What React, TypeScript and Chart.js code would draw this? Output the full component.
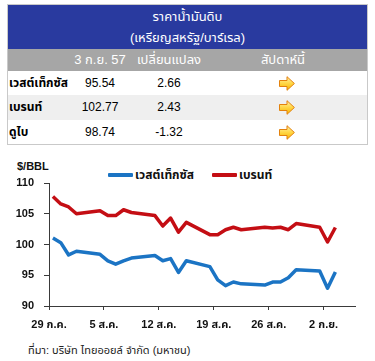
import React, { useEffect, useRef } from "react";
import { Chart, registerables } from "chart.js";

Chart.register(...registerables);

// ---------- data ----------
const tradeDates = [
  "2014-07-29", "2014-07-30", "2014-07-31", "2014-08-01",
  "2014-08-04", "2014-08-05", "2014-08-06", "2014-08-07", "2014-08-08",
  "2014-08-11", "2014-08-12", "2014-08-13", "2014-08-14", "2014-08-15",
  "2014-08-18", "2014-08-19", "2014-08-20", "2014-08-21", "2014-08-22",
  "2014-08-25", "2014-08-26", "2014-08-27", "2014-08-28", "2014-08-29",
  "2014-09-01", "2014-09-02", "2014-09-03",
];
const wtiPrices = [
  101.05, 100.3, 98.3, 98.9,
  98.4, 97.35, 96.8, 97.35, 97.8,
  98.2, 97.35, 97.7, 95.45, 97.35,
  96.4, 94.25, 93.3, 93.9, 93.6,
  93.4, 93.9, 93.9, 94.6, 95.9,
  95.7, 92.9, 95.54,
];
const brentPrices = [
  107.8, 106.6, 106.1, 105.0,
  105.5, 104.7, 104.7, 105.65, 105.2,
  104.7, 103.0, 104.3, 102.0, 103.6,
  101.6, 101.6, 102.4, 102.8, 102.4,
  102.8, 102.7, 102.8, 102.4, 103.4,
  102.8, 100.4, 102.77,
];
const seriesNames = ["เวสต์เท็กซัส", "เบรนท์"];
const axisStartDate = "2014-07-29";
const axisTickDays = [0, 7, 14, 21, 28, 35];
const axisTickLabels = ["29 ก.ค.", "5 ส.ค.", "12 ส.ค.", "19 ส.ค.", "26 ส.ค.", "2 ก.ย."];
const axisDayMax = 39;
const yMin = 90;
const yMax = 110;
const yStep = 5;

const tableTitle = ["ราคาน้ำมันดิบ", "(เหรียญสหรัฐ/บาร์เรล)"];
const tableHeaders = ["3 ก.ย. 57", "เปลี่ยนแปลง", "สัปดาห์นี้"];
const tableRowNames = ["เวสต์เท็กซัส", "เบรนท์", "ดูไบ"];
const tableLatest = ["95.54", "102.77", "98.74"];
const tableChange = ["2.66", "2.43", "-1.32"];
const unitLabel = "$/BBL";
const sourceText = "ที่มา: บริษัท ไทยออยล์ จำกัด (มหาชน)";

// ---------- styles ----------
const FONT = "Arial, 'Liberation Sans', 'Noto Sans Thai', 'Noto Sans', sans-serif";
const BLUE = "#1b74c4";
const RED = "#c40e14";
const SERIES_COLORS = [BLUE, RED];
const AXIS = "#3a3a3a";
const LEGEND_X = [108, 212];

function dayOffset(d: string): number {
  return Math.round((Date.parse(d) - Date.parse(axisStartDate)) / 86400000) + 0.5;
}

function toPoints(vals: number[]) {
  return vals.map((v, i) => ({ x: dayOffset(tradeDates[i]), y: v }));
}

function Arrow() {
  return (
    <svg width="16" height="15" viewBox="0 0 16 15" style={{ display: "block" }}>
      <defs>
        <linearGradient id="ag" x1="0" y1="0" x2="0" y2="1">
          <stop offset="0" stopColor="#fff3a8" />
          <stop offset="0.5" stopColor="#ffd645" />
          <stop offset="1" stopColor="#f5b400" />
        </linearGradient>
      </defs>
      <polygon
        points="0.5,4.5 8,4.5 8,0.7 15.4,7.5 8,14.3 8,10.5 0.5,10.5"
        fill="url(#ag)"
        stroke="#e3810d"
        strokeWidth="1"
        strokeLinejoin="miter"
      />
    </svg>
  );
}

const colCenters = [92, 161, 279];

export default function App() {
  const ref = useRef<HTMLCanvasElement | null>(null);

  useEffect(() => {
    if (!ref.current) return;
    Chart.defaults.font.family = FONT;
    const chart = new Chart(ref.current, {
      type: "line",
      data: {
        datasets: [
          {
            label: seriesNames[0],
            data: toPoints(wtiPrices),
            borderColor: BLUE,
            backgroundColor: BLUE,
            borderWidth: 3.5,
            pointRadius: 0,
            tension: 0,
            borderJoinStyle: "round",
          },
          {
            label: seriesNames[1],
            data: toPoints(brentPrices),
            borderColor: RED,
            backgroundColor: RED,
            borderWidth: 3.5,
            pointRadius: 0,
            tension: 0,
            borderJoinStyle: "round",
          },
        ],
      },
      options: {
        animation: false,
        responsive: false,
        maintainAspectRatio: false,
        events: [],
        layout: { padding: { top: 33, right: 20, left: 0, bottom: 0 } },
        plugins: {
          legend: { display: false },
          tooltip: { enabled: false },
        },
        scales: {
          x: {
            type: "linear",
            min: 0,
            max: axisDayMax,
            afterBuildTicks: (s: any) => {
              s.ticks = axisTickDays.map((v) => ({ value: v }));
            },
            afterFit: (s: any) => {
              s.height = 34;
            },
            ticks: {
              autoSkip: false,
              maxRotation: 0,
              padding: 8,
              color: "#111",
              font: { size: 11, weight: "bold" },
              callback: (v: any) => {
                const i = axisTickDays.indexOf(Number(v));
                return i >= 0 ? axisTickLabels[i] : "";
              },
            },
            grid: { drawOnChartArea: false, drawTicks: true, tickLength: 4, color: AXIS },
            border: { color: AXIS, width: 1 },
          },
          y: {
            min: yMin,
            max: yMax,
            afterFit: (s: any) => {
              s.width = 49;
            },
            ticks: {
              stepSize: yStep,
              padding: 10,
              color: "#111",
              font: { size: 11, weight: "bold" },
            },
            grid: { drawOnChartArea: false, drawTicks: true, tickLength: 5, color: AXIS },
            border: { color: AXIS, width: 1 },
          },
        },
      } as any,
    });
    return () => chart.destroy();
  }, []);

  const rowHeights = [24, 25, 24];
  const rowBgs = ["#ffffff", "#efefef", "#ffffff"];

  return (
    <div
      style={{
        position: "absolute",
        left: 0,
        top: 0,
        width: 375,
        height: 361,
        background: "#fff",
        fontFamily: FONT,
        overflow: "hidden",
      }}
    >
      <div
        style={{
          position: "absolute",
          left: 7,
          top: 4,
          width: 361,
          border: "1px solid #c9c9c9",
          boxSizing: "border-box",
        }}
      >
        <div style={{ height: 44, background: "#293a9f", color: "#fff", textAlign: "center", fontSize: 13 }}>
          <div style={{ height: 22, lineHeight: "24px" }}>{tableTitle[0]}</div>
          <div style={{ height: 22, lineHeight: "22px" }}>{tableTitle[1]}</div>
        </div>
        <div style={{ height: 22, background: "#a6a6a6", color: "#fff", position: "relative", fontSize: 13 }}>
          {tableHeaders.map((h, i) => (
            <span
              key={i}
              style={{
                position: "absolute",
                left: colCenters[i] - (i === 2 ? 4 : 0),
                top: 0,
                lineHeight: "22px",
                transform: "translateX(-50%)",
                whiteSpace: "nowrap",
              }}
            >
              {h}
            </span>
          ))}
        </div>
        {tableRowNames.map((name, r) => (
          <div
            key={r}
            style={{ height: rowHeights[r], background: rowBgs[r], position: "relative", color: "#000" }}
          >
            <span
              style={{
                position: "absolute",
                left: 1,
                top: 0,
                lineHeight: rowHeights[r] + "px",
                fontSize: 12,
                fontWeight: "bold",
                whiteSpace: "nowrap",
              }}
            >
              {name}
            </span>
            <span
              style={{
                position: "absolute",
                left: colCenters[0],
                top: 0,
                lineHeight: rowHeights[r] + "px",
                fontSize: 12,
                transform: "translateX(-50%)",
              }}
            >
              {tableLatest[r]}
            </span>
            <span
              style={{
                position: "absolute",
                left: colCenters[1],
                top: 0,
                lineHeight: rowHeights[r] + "px",
                fontSize: 12,
                transform: "translateX(-50%)",
              }}
            >
              {tableChange[r]}
            </span>
            <div
              style={{
                position: "absolute",
                left: colCenters[2] - 8,
                top: (rowHeights[r] - 15) / 2,
              }}
            >
              <Arrow />
            </div>
          </div>
        ))}
      </div>

      <div
        style={{
          position: "absolute",
          left: 17,
          top: 160,
          fontSize: 11,
          fontWeight: "bold",
          lineHeight: "13px",
          color: "#111",
        }}
      >
        {unitLabel}
      </div>

      {seriesNames.map((n, i) => (
        <div
          key={n}
          style={{
            position: "absolute",
            left: LEGEND_X[i],
            top: 167,
            height: 16,
            display: "flex",
            alignItems: "center",
            whiteSpace: "nowrap",
          }}
        >
          <span
            style={{
              display: "inline-block",
              width: 25,
              height: 4,
              borderRadius: 1,
              background: SERIES_COLORS[i],
              marginRight: 2,
            }}
          />
          <span style={{ fontSize: 12, fontWeight: "bold", color: "#111", lineHeight: "16px" }}>{n}</span>
        </div>
      ))}

      <canvas
        ref={ref}
        width={375}
        height={190}
        style={{ position: "absolute", left: 0, top: 150, width: 375, height: 190 }}
      />

      <div
        style={{
          position: "absolute",
          left: 28,
          top: 343,
          fontSize: 11,
          lineHeight: "14px",
          color: "#222",
          whiteSpace: "nowrap",
        }}
      >
        {sourceText}
      </div>
    </div>
  );
}
